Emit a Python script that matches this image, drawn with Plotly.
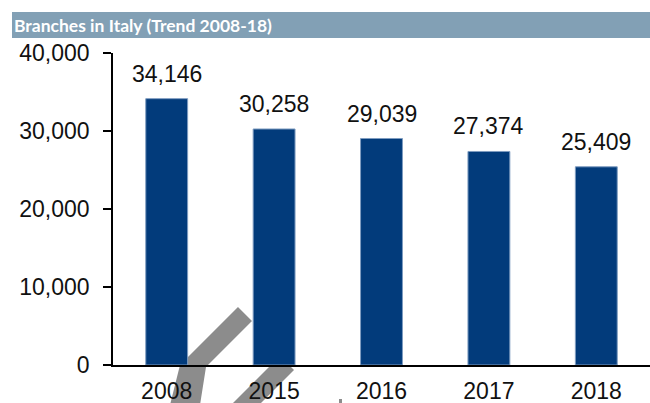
import plotly.graph_objects as go

# Data
years = ["2008", "2015", "2016", "2017", "2018"]
branches = [34146, 30258, 29039, 27374, 25409]
y_ticks = [0, 10000, 20000, 30000, 40000]
title_text = "Branches in Italy (Trend 2008-18)"

# Canvas and plot-area geometry (pixels)
W, H = 650, 403
L, R, T, B = 113, 0, 53, 38


def px(x):
    return (x - L) / (W - L - R)


def py(y):
    return (H - B - y) / (H - T - B)


def poly(points):
    return "M " + " L ".join(f"{px(x):.5f},{py(y):.5f}" for x, y in points) + " Z"


NAVY = "#023B7B"
TEXT = "#111111"
FONT = "Liberation Sans, Arial, sans-serif"

fig = go.Figure(
    go.Bar(
        x=years,
        y=branches,
        width=0.39,
        marker=dict(color=NAVY, line=dict(color="#7E9CC0", width=1)),
        hoverinfo="skip",
    )
)

# Value labels above each bar (category index on the x axis)
for i, v in enumerate(branches):
    fig.add_annotation(
        xref="x", yref="y", x=i, y=v, text=f"{v:,}", showarrow=False,
        xanchor="center", yanchor="bottom", yshift=10,
        font=dict(family=FONT, size=23, color=TEXT),
    )

# Header band with title
fig.add_shape(
    type="rect", xref="paper", yref="paper",
    x0=px(12), x1=px(650), y0=py(38), y1=py(12),
    fillcolor="#82A0B5", line=dict(width=0), layer="below",
)
fig.add_annotation(
    xref="paper", yref="paper", x=px(12), y=py(25),
    text=f"<b>{title_text}</b>", showarrow=False,
    xanchor="left", yanchor="middle",
    font=dict(family="Lato, Open Sans, sans-serif", size=17.5, color="white"),
)

# Grey diagonal strokes near the baseline
grey = "#8C8C8C"
strokes = [
    [(238, 307), (252, 321), (206, 367), (200, 405), (170, 405), (180, 365)],
    [(280, 356), (294, 370), (259, 405), (231, 405)],
    [(339, 399), (342, 399), (342, 404), (339, 404)],
]
for pts in strokes:
    fig.add_shape(
        type="path", xref="paper", yref="paper", path=poly(pts),
        fillcolor=grey, line=dict(width=0), layer="below",
    )

fig.update_layout(
    width=W, height=H,
    margin=dict(l=L, r=R, t=T, b=B, pad=0, autoexpand=False),
    paper_bgcolor="white", plot_bgcolor="white",
    showlegend=False,
    bargap=0.6,
    xaxis=dict(
        type="category", range=[-0.5, 4.5], fixedrange=True, automargin=False,
        showline=True, linecolor="#000000", linewidth=1.5,
        ticks="", showgrid=False, zeroline=False,
        tickfont=dict(family=FONT, size=23, color=TEXT),
        ticklabelstandoff=5,
    ),
    yaxis=dict(
        range=[0, 40000], tickvals=y_ticks, tickformat=",",
        fixedrange=True, automargin=False,
        showline=True, linecolor="#000000", linewidth=1.5,
        ticks="outside", ticklen=8, tickwidth=1.5, tickcolor="#000000",
        showgrid=False, zeroline=False,
        tickfont=dict(family=FONT, size=23, color=TEXT),
        ticklabelstandoff=9,
    ),
)

fig.write_html("out.html")
